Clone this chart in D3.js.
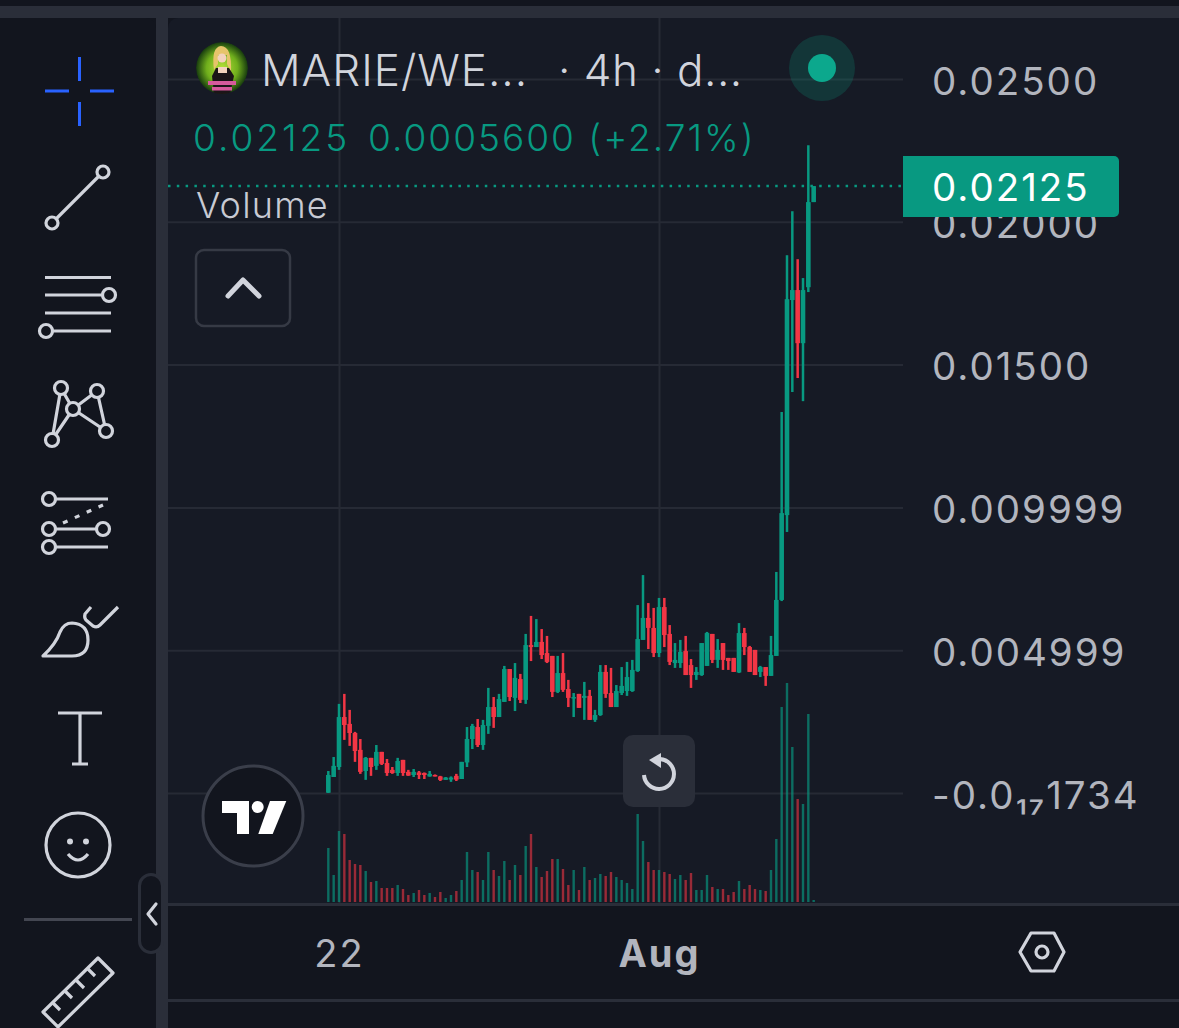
<!DOCTYPE html>
<html>
<head>
<meta charset="utf-8">
<style>
  html, body { margin: 0; padding: 0; background: #12151e; overflow: hidden; }
  svg { display: block; }
  text { font-family: Inter, "Noto Sans", sans-serif; }
  .axis path, .axis line { fill: none; }
  .icon { fill: none; stroke: #d1d4dc; stroke-width: 3.2; stroke-linecap: round; stroke-linejoin: round; }
</style>
<script src="https://cdn.jsdelivr.net/npm/d3@7"></script>
</head>
<body>
<svg id="chart" width="1179" height="1028"></svg>
<script>
const width = 1179;
const height = 1028;
const green = "#089981";
const red = "#f23645";
const gridColor = "#262a35";
const paneColor = "#161a25";
const darkColor = "#12151e";
const gapColor = "#2a2e39";
const axisText = "#b2b5be";

// prices in units of 0.00001, 4h candles, first one is 21 Jul 16:00
const priceUnit = 0.00001;
const opens = [1,56,91,266,242,210,151,77,123,95,144,105,81,70,116,74,63,72,70,58,63,58,46,47,60,49,107,189,231,168,235,301,266,319,434,333,399,326,518,511,529,490,480,354,420,364,333,347,333,340,256,273,424,350,301,350,357,357,427,536,613,578,490,651,557,455,455,497,448,413,413,445,557,466,525,473,473,422,560,511,501,424,441,410,480,676,973,1726,1761,1575,1771,2069];
const highs = [77,126,312,347,291,214,189,126,123,168,144,119,91,123,116,81,84,77,72,77,65,60,56,58,67,109,231,242,259,256,368,336,347,445,434,455,417,557,620,609,574,550,480,480,490,396,350,347,389,361,291,448,448,438,378,441,459,466,658,763,665,648,683,683,588,525,536,550,469,441,525,564,557,539,525,473,473,595,578,515,501,445,441,550,774,1334,1883,2037,1869,1803,2268,2125];
const lows = [0,56,81,186,165,109,67,46,60,81,98,60,67,60,60,60,56,49,49,57,58,42,46,39,42,49,91,154,161,151,207,228,266,319,322,287,315,312,462,511,469,455,336,350,354,301,266,298,256,256,249,270,333,301,301,343,340,354,424,536,504,476,476,511,448,438,438,413,368,396,410,445,455,438,431,431,424,420,483,424,413,406,375,410,480,672,914,1404,1453,1372,1754,2069];
const closes = [63,95,266,238,210,147,74,123,91,144,102,70,70,112,70,61,74,63,63,67,60,46,54,54,47,109,189,235,168,238,301,266,329,434,336,403,326,518,511,529,483,459,354,420,361,333,336,298,340,256,273,424,347,301,357,375,406,431,539,613,578,490,651,553,459,466,494,413,413,424,525,560,466,501,466,462,424,560,511,424,413,441,410,483,676,980,1729,1761,1575,1761,2069,2125];
// relative volume, one per candle
const volumes = [54,27,71,68,42,38,37,31,20,21,14,14,14,17,13,7,9,12,7,9,5,10,4,7,11,22,50,32,30,22,50,32,26,41,22,37,27,56,68,35,25,31,43,43,33,17,32,12,35,22,24,28,26,30,25,22,19,13,88,61,40,32,32,30,28,23,27,22,29,12,12,27,15,13,13,7,10,21,13,17,13,12,11,32,63,195,219,155,103,98,188,2];

const yTickValues = [0, 0.005, 0.01, 0.015, 0.02, 0.025];
const yTickLabels = ["-0.0₁₇1734", "0.004999", "0.009999", "0.01500", "0.02000", "0.02500"];
const xTickDates = [new Date(Date.UTC(2024, 6, 22)), new Date(Date.UTC(2024, 7, 1))];
const xTickLabels = ["22", "Aug"];
const lastPrice = 0.02125;
const lastPriceLabel = "0.02125";
const changeLabel = "0.0005600 (+2.71%)";

const firstCandle = new Date(Date.UTC(2024, 6, 21, 16));
const candleTimes = opens.map((d, i) => d3.utcHour.offset(firstCandle, i * 4));

const x = d3.scaleUtc().domain(xTickDates).range([339, 659]);
const y = d3.scaleLinear().domain([0, 0.025]).range([793, 79]);
const yVolume = d3.scaleLinear().domain([0, 219]).range([902, 683]);

const svg = d3.select("#chart");

// panels
svg.append("rect").attr("width", width).attr("height", height).attr("fill", darkColor);
svg.append("rect").attr("width", width).attr("y", 6).attr("height", 12).attr("fill", gapColor);
svg.append("rect").attr("x", 156).attr("y", 6).attr("width", 12).attr("height", height).attr("fill", gapColor);
svg.append("path").attr("fill", darkColor).attr("d", "M0,18H146a10,10 0 0 1 10,10V1028H0Z");
svg.append("path").attr("fill", paneColor).attr("d", "M178,18H1179V904H168V28a10,10 0 0 1 10,-10Z");
svg.append("rect").attr("x", 168).attr("y", 904).attr("width", 1011).attr("height", 124).attr("fill", darkColor);
svg.append("rect").attr("x", 168).attr("y", 903).attr("width", 1011).attr("height", 3).attr("fill", gapColor);
svg.append("rect").attr("x", 168).attr("y", 999).attr("width", 1011).attr("height", 3).attr("fill", gapColor);

// grid
const yGrid = svg.append("g").attr("class", "axis").attr("transform", "translate(903,0)")
  .call(d3.axisLeft(y).tickValues(yTickValues).tickSize(735).tickFormat(""));
yGrid.select(".domain").remove();
yGrid.selectAll("line").attr("stroke", gridColor).attr("stroke-width", 2);

const xGrid = svg.append("g").attr("class", "axis").attr("transform", "translate(0,903)")
  .call(d3.axisTop(x).tickValues(xTickDates).tickSize(885).tickFormat(""));
xGrid.select(".domain").remove();
xGrid.selectAll("line").attr("stroke", gridColor).attr("stroke-width", 2);

// volume bars
svg.append("g").selectAll("rect").data(volumes).join("rect")
  .attr("x", (d, i) => x(candleTimes[i]) - 1.2)
  .attr("width", 2.4)
  .attr("y", (d) => yVolume(d))
  .attr("height", (d) => yVolume(0) - yVolume(d))
  .attr("fill", (d, i) => (closes[i] >= opens[i] ? green : red))
  .attr("opacity", (d, i) => (closes[i] >= opens[i] ? 0.65 : 0.6));

// candles
const candles = svg.append("g").selectAll("g").data(opens).join("g")
  .attr("fill", (d, i) => (closes[i] >= opens[i] ? green : red));
candles.append("rect")
  .attr("x", (d, i) => x(candleTimes[i]) - 1.25)
  .attr("width", 2.5)
  .attr("y", (d, i) => y(highs[i] * priceUnit))
  .attr("height", (d, i) => y(lows[i] * priceUnit) - y(highs[i] * priceUnit));
candles.append("rect")
  .attr("x", (d, i) => x(candleTimes[i]) - 2.3)
  .attr("width", 4.6)
  .attr("y", (d, i) => y(Math.max(opens[i], closes[i]) * priceUnit))
  .attr("height", (d, i) => Math.max(1.5, Math.abs(y(opens[i] * priceUnit) - y(closes[i] * priceUnit))));

// last price line
svg.append("line")
  .attr("x1", 168).attr("x2", 903)
  .attr("y1", y(lastPrice)).attr("y2", y(lastPrice))
  .attr("stroke", green).attr("stroke-width", 2.5).attr("stroke-dasharray", "2.5 6.3");

// price axis
const yLabels = svg.append("g").attr("class", "axis").attr("transform", "translate(932,1.5)")
  .call(d3.axisRight(y).tickValues(yTickValues).tickSize(0).tickPadding(0)
    .tickFormat((d, i) => yTickLabels[i]));
yLabels.select(".domain").remove();
yLabels.selectAll("text").attr("font-size", 38.5).attr("fill", axisText)
  .attr("font-family", "Inter").attr("letter-spacing", 2).attr("x", 0).attr("dy", "0.36em");

// last price tag
svg.append("path").attr("fill", green).attr("d", "M903,156H1114a5,5 0 0 1 5,5V212a5,5 0 0 1 -5,5H903Z");
svg.append("text").attr("x", 932).attr("y", 201).attr("font-size", 38.5).attr("letter-spacing", 2)
  .attr("fill", "#ffffff").text(lastPriceLabel);

// time axis
const xLabels = svg.append("g").attr("class", "axis").attr("transform", "translate(0,932)")
  .call(d3.axisBottom(x).tickValues(xTickDates).tickSize(0).tickPadding(0)
    .tickFormat((d, i) => xTickLabels[i]));
xLabels.select(".domain").remove();
xLabels.selectAll("text").attr("font-size", 38).attr("fill", axisText).attr("font-family", "Inter")
  .attr("letter-spacing", 2).attr("y", 0).attr("dy", "0.93em")
  .attr("font-weight", (d, i) => (i === 1 ? 700 : 400));

// legend
const defs = svg.append("defs");
const glow = defs.append("radialGradient").attr("id", "avatar");
glow.append("stop").attr("offset", "0%").attr("stop-color", "#b6e23a");
glow.append("stop").attr("offset", "60%").attr("stop-color", "#6fae1c");
glow.append("stop").attr("offset", "100%").attr("stop-color", "#163a0e");
defs.append("clipPath").attr("id", "avatarClip").append("circle").attr("cx", 222).attr("cy", 68).attr("r", 26);
const avatar = svg.append("g").attr("clip-path", "url(#avatarClip)");
avatar.append("circle").attr("cx", 222).attr("cy", 68).attr("r", 26).attr("fill", "url(#avatar)");
avatar.append("path").attr("fill", "#e6c46a").attr("d", "M214,70Q211,47 221,46Q232,46 231,72L227,64V55H218V64Z");
avatar.append("circle").attr("cx", 222).attr("cy", 58).attr("r", 4.5).attr("fill", "#f3d2bc");
avatar.append("path").attr("fill", "#1c1518").attr("d", "M212,76L216,68H229L234,76L230,94H214Z");
avatar.append("rect").attr("x", 218).attr("y", 67).attr("width", 9).attr("height", 6).attr("fill", "#f3d2bc");
avatar.append("rect").attr("x", 208).attr("y", 81).attr("width", 28).attr("height", 4).attr("fill", "#d65a9c");
avatar.append("rect").attr("x", 212).attr("y", 87).attr("width", 20).attr("height", 3.5).attr("fill", "#d65a9c");

svg.append("text").attr("x", 261).attr("y", 86).attr("font-size", 44).attr("letter-spacing", 1).attr("fill", "#d1d4dc").attr("font-weight", 300).text("MARIE/WE...");
svg.append("text").attr("x", 558).attr("y", 86).attr("font-size", 44).attr("letter-spacing", 0.5).attr("fill", "#d1d4dc").attr("font-weight", 300).text("· 4h · d...");
svg.append("text").attr("x", 193).attr("y", 151).attr("font-size", 37).attr("letter-spacing", 3).attr("fill", green).attr("font-weight", 300).text(lastPriceLabel);
svg.append("text").attr("x", 368).attr("y", 151).attr("font-size", 37).attr("letter-spacing", 2).attr("fill", green).attr("font-weight", 300).text(changeLabel);
svg.append("text").attr("x", 196).attr("y", 218).attr("font-size", 36).attr("letter-spacing", 1.2).attr("fill", "#c8cad3").attr("font-weight", 300).text("Volume");
svg.append("circle").attr("cx", 822).attr("cy", 68).attr("r", 33).attr("fill", green).attr("opacity", 0.22);
svg.append("circle").attr("cx", 822).attr("cy", 68).attr("r", 14).attr("fill", "#0ca88d");

// collapse button
svg.append("rect").attr("x", 196).attr("y", 250).attr("width", 94).attr("height", 76).attr("rx", 8)
  .attr("fill", "none").attr("stroke", "#363a45").attr("stroke-width", 2.5);
svg.append("path").attr("class", "icon").style("stroke-width", 5).attr("d", "M228,296L243,280L259,296");

// tradingview badge
svg.append("circle").attr("cx", 253).attr("cy", 816).attr("r", 50).attr("fill", darkColor).attr("stroke", "#3a3e4a").attr("stroke-width", 3);
svg.append("path").attr("fill", "#ffffff").attr("d", "M222,801H249V834H237V813H222Z");
svg.append("circle").attr("cx", 257.7).attr("cy", 807).attr("r", 6).attr("fill", "#ffffff");
svg.append("path").attr("fill", "#ffffff").attr("d", "M270,801H286.3L272.7,834H258.3Z");

// reset button
svg.append("rect").attr("x", 623).attr("y", 735).attr("width", 72).attr("height", 72).attr("rx", 10).attr("fill", gapColor);
svg.append("path").attr("fill", "none").attr("stroke", "#d1d4dc").attr("stroke-width", 4).attr("d", "M660,759A15,15 0 1 1 644,775");
svg.append("path").attr("fill", "#d1d4dc").attr("d", "M661,753L649,760L661,768Z");

// settings hexagon
svg.append("path").attr("class", "icon").attr("d", "M1031,933H1054L1064,952L1054,971H1031L1020,952Z");
svg.append("circle").attr("class", "icon").attr("cx", 1042).attr("cy", 952).attr("r", 6);

// sidebar tools
const tools = svg.append("g");
const line = (d) => tools.append("path").attr("class", "icon").style("stroke-linecap", "butt").attr("d", d);
const dot = (cx, cy, r) => tools.append("circle").attr("class", "icon").style("fill", darkColor).attr("cx", cx).attr("cy", cy).attr("r", r);

// crosshair
tools.append("path").attr("fill", "none").attr("stroke", "#2962ff").attr("stroke-width", 3)
  .attr("d", "M79.5,57V81M79.5,102V126M45,91H69M90,91H114");
// trend line
line("M52,223L103,172");
dot(52, 223, 6); dot(103, 172, 6);
// fib
line("M45,277.5H111M45,295H103M45,313H111M52,331H111");
dot(109, 295, 6.5); dot(46, 331, 6.5);
// pattern
line("M61,388L52,440M61,388L73,409L52,440M73,409L97,391L106,431M73,409L106,431");
dot(61, 388, 6.5); dot(97, 391, 6.5); dot(73, 409, 6.5); dot(52, 440, 6.5); dot(106, 431, 6.5);
// forecast lines
line("M49,499H108M49,529H103M49,547H108");
tools.append("path").attr("class", "icon").style("stroke-dasharray", "5 8").style("stroke-linecap", "butt").attr("d", "M63,523L103,505");
dot(49, 499, 6.5); dot(49, 529, 6.5); dot(103, 529, 6.5); dot(49, 547, 6.5);
// brush
line("M43,656Q56,644 60,632Q64,623 72,623Q88,624 88,640Q88,656 72,656Z");
line("M91,607L85,614Q84,618 86,620L93,626Q97,628 100,625L118,607");
// text
line("M58,713H102M80,713V764M72,764H88");
// emoji
dot(78, 845, 32);
tools.append("circle").attr("cx", 70).attr("cy", 841.5).attr("r", 3).attr("fill", "#d1d4dc");
tools.append("circle").attr("cx", 86).attr("cy", 841.5).attr("r", 3).attr("fill", "#d1d4dc");
line("M68,854Q78,866 88,854");
// separator
tools.append("rect").attr("x", 24).attr("y", 918).attr("width", 108).attr("height", 3).attr("fill", "#434651");
// side pill
tools.append("rect").attr("x", 139.5).attr("y", 874.5).attr("width", 23).attr("height", 78).attr("rx", 11.5)
  .attr("fill", darkColor).attr("stroke", gapColor).attr("stroke-width", 3);
tools.append("path").attr("class", "icon").attr("d", "M156,904L148,914L156,924");
// ruler
line("M98,958L113,973L58,1027L43,1012Z");
line("M53,1003L60,1010M65,991L72,998M76,980L84,988M88,969L95,976");
</script>
</body>
</html>
